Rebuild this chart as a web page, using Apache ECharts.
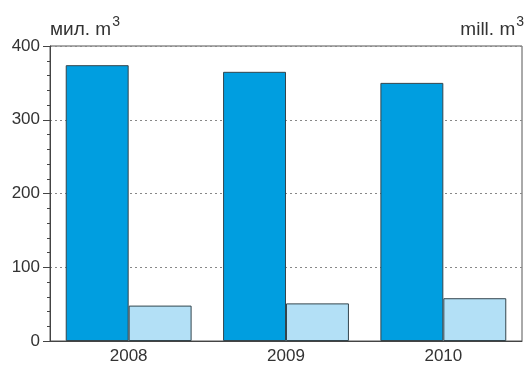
<!DOCTYPE html>
<html><head><meta charset="utf-8">
<script src="https://cdn.jsdelivr.net/npm/echarts@6/dist/echarts.min.js"></script>
<style>html,body{margin:0;padding:0;background:#fff}#c{width:524px;height:365px}</style>
</head><body><div id="c"></div>
<script>
var categories = ['2008', '2009', '2010'];
var seriesA = [374, 365, 350];
var seriesB = [48, 51, 58];
var yTicks = [0, 100, 200, 300, 400];

var chart = echarts.init(document.getElementById('c'));
var font = 'Liberation Sans, Arial, sans-serif';
var rich = {
  a: {fontSize: 19, color: '#333', fontFamily: font, fontWeight: 'normal', padding: [7,0,0,0]},
  s: {fontSize: 14, color: '#333', fontFamily: font, fontWeight: 'normal', padding: [0,0,7,1]}
};
chart.setOption({
  animation: false,
  backgroundColor: '#fff',
  title: [
    {text: '{a|мил. m}{s|3}', left: 50, top: 13, padding: 0, textStyle: {rich: rich, fontWeight: 'normal'}},
    {text: '{a|mill. m}{s|3}', right: 0, top: 13, padding: 0, textStyle: {rich: rich, fontWeight: 'normal'}}
  ],
  grid: {left: 50, right: 2, top: 46, bottom: 23, show: true, borderColor: '#555', borderWidth: 1, backgroundColor: 'transparent'},
  xAxis: {
    type: 'category', data: categories,
    axisLine: {show: true, lineStyle: {color: '#444', width: 1}},
    axisTick: {show: false},
    axisLabel: {color: '#333', fontSize: 17, fontFamily: font, margin: 7}
  },
  yAxis: {
    type: 'value', min: yTicks[0], max: yTicks[yTicks.length - 1], interval: 100,
    axisLine: {show: true, lineStyle: {color: '#444', width: 1}},
    axisTick: {show: true, length: 7, lineStyle: {color: '#444'}},
    minorTick: {show: true, splitNumber: 5, length: 3, lineStyle: {color: '#444'}},
    axisLabel: {color: '#333', fontSize: 17, fontFamily: font, margin: 10},
    splitLine: {show: true, lineStyle: {color: '#888', type: [2, 3], width: 1}}
  },
  series: [
    {type: 'bar', data: seriesA, barGap: '0%', barCategoryGap: '20%',
     itemStyle: {color: '#009ee0', borderColor: '#33454d', borderWidth: 1}},
    {type: 'bar', data: seriesB,
     itemStyle: {color: '#b3e0f6', borderColor: '#33454d', borderWidth: 1}}
  ]
});
</script></body></html>
